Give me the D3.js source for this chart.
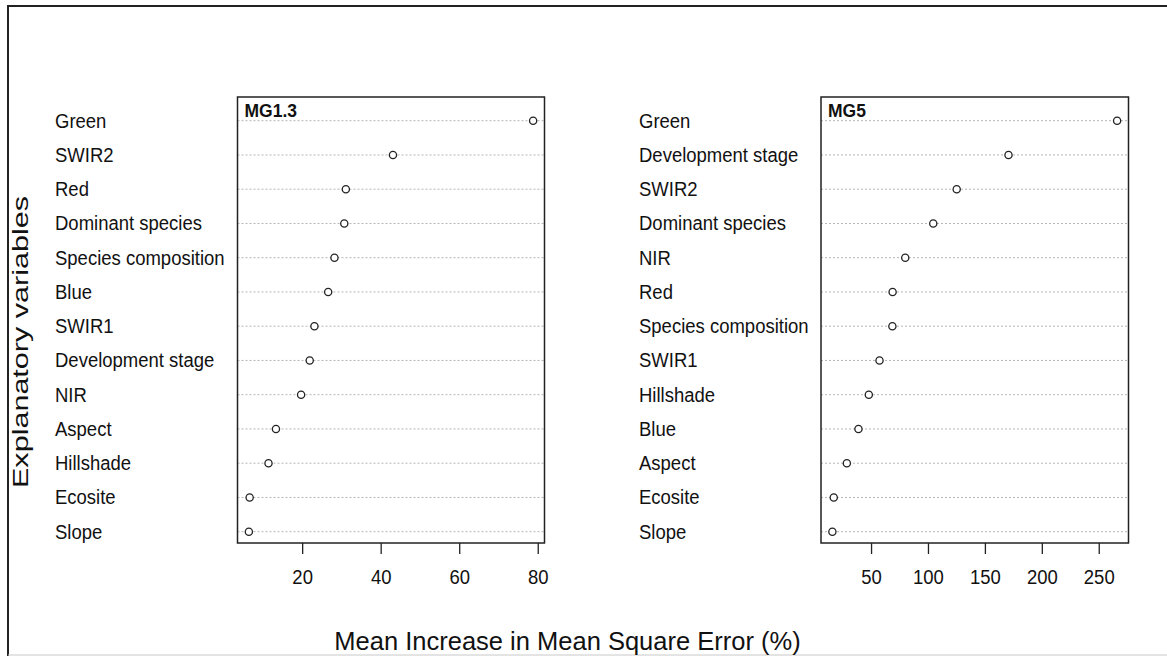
<!DOCTYPE html>
<html lang="en">
<head>
<meta charset="UTF-8">
<title>Variable importance dotcharts</title>
<script src="https://cdn.jsdelivr.net/npm/d3@7"></script>
<style>
    body { margin: 0; background: #fff; }
    text { font-family: "Liberation Sans", Arial, sans-serif; fill: #111; }
    .grid { stroke: #b4b4b4; stroke-width: 1; stroke-dasharray: 2,2; }
    .box { fill: none; stroke: #222; stroke-width: 1.5; }
    .dot { fill: #fff; stroke: #222; stroke-width: 1.3; }
    .tick { stroke: #222; stroke-width: 1.3; }
</style>
</head>
<body>
<svg width="1167" height="656"></svg>
<script>
// data (top row first)
const vars13 = ["Green", "SWIR2", "Red", "Dominant species", "Species composition", "Blue",
                "SWIR1", "Development stage", "NIR", "Aspect", "Hillshade", "Ecosite", "Slope"];
const mse13  = [78.7, 43.0, 31.0, 30.6, 28.1, 26.5, 23.0, 21.8, 19.6, 13.2, 11.3, 6.5, 6.3];

const vars5 = ["Green", "Development stage", "SWIR2", "Dominant species", "NIR", "Red",
               "Species composition", "SWIR1", "Hillshade", "Blue", "Aspect", "Ecosite", "Slope"];
const mse5  = [265.7, 170.3, 124.8, 104.2, 79.6, 68.5, 68.3, 57.0, 47.6, 38.5, 28.3, 16.8, 15.6];

const panels = [
    {title: "MG1.3", vars: vars13, vals: mse13, labelX: 55,  x0: 237.5, x1: 544.5},
    {title: "MG5",   vars: vars5,  vals: mse5,  labelX: 639, x0: 821,   x1: 1128.5}
];

const svg = d3.select("svg");
const boxTop = 97, boxBottom = 543;
const stretch = 1.1;   // text in the picture is a bit taller than wide

// outer frame of the screenshot (top / left dark, bottom light)
svg.append("path").attr("d", "M8,656 V6 H1167")
   .attr("fill", "none").attr("stroke", "#222").attr("stroke-width", 2);
svg.append("line").attr("x1", 8).attr("x2", 1167).attr("y1", 655).attr("y2", 655)
   .attr("stroke", "#c8c8c8");

panels.forEach(p => {
    // R style 4% padding on the data range
    const [lo, hi] = d3.extent(p.vals);
    const pad = (hi - lo) * 0.04;
    const x = d3.scaleLinear().domain([lo - pad, hi + pad]).range([p.x0, p.x1]);
    const y = d3.scalePoint().domain(p.vars).range([120.7, 531.7]);

    const g = svg.append("g");

    g.selectAll("line.grid")
     .data(p.vars)
     .join("line").attr("class", "grid")
       .attr("x1", p.x0).attr("x2", p.x1)
       .attr("y1", d => y(d)).attr("y2", d => y(d));

    g.append("rect").attr("class", "box")
       .attr("x", p.x0).attr("y", boxTop)
       .attr("width", p.x1 - p.x0).attr("height", boxBottom - boxTop);

    g.selectAll("circle.dot")
     .data(p.vals)
     .join("circle").attr("class", "dot")
       .attr("cx", d => x(d))
       .attr("cy", (d, i) => y(p.vars[i]))
       .attr("r", 3.6);

    g.selectAll("text.lab")
     .data(p.vars)
     .join("text").attr("class", "lab")
       .attr("transform", d => `translate(${p.labelX},${y(d) + 6.8}) scale(1,${stretch})`)
       .style("font-size", "18.5px")
       .text(d => d);

    g.append("text")
       .attr("transform", `translate(${p.x0 + 7},116.5) scale(1,${stretch})`)
       .style("font-size", "17.5px").style("font-weight", "bold")
       .text(p.title);

    // bottom axis, R style: ticks hang below the box, labels under them
    const ticks = x.ticks(5);
    g.selectAll("line.tick")
     .data(ticks)
     .join("line").attr("class", "tick")
       .attr("x1", d => x(d)).attr("x2", d => x(d))
       .attr("y1", boxBottom).attr("y2", boxBottom + 11);

    g.selectAll("text.ticklab")
     .data(ticks)
     .join("text").attr("class", "ticklab")
       .attr("text-anchor", "middle")
       .attr("transform", d => `translate(${x(d)},583.5) scale(1,${stretch})`)
       .style("font-size", "18.5px")
       .text(d => d);
});

svg.append("text")
   .attr("transform", "translate(28,342) rotate(-90)")
   .attr("text-anchor", "middle")
   .attr("textLength", 292).attr("lengthAdjust", "spacingAndGlyphs")
   .style("font-size", "22px")
   .text("Explanatory variables");

svg.append("text")
   .attr("x", 567.5).attr("y", 650)
   .attr("text-anchor", "middle")
   .style("font-size", "25.5px")
   .text("Mean Increase in Mean Square Error (%)");
</script>
</body>
</html>
